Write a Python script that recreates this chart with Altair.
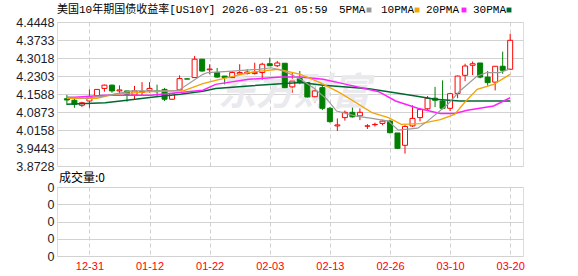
import altair as alt
import pandas as pd

# ---------------- data ----------------
idx = list(range(60))
open_ = [4.140, 4.134, 4.114, 4.131, 4.151, 4.181, 4.194, 4.171, 4.171, 4.155,
         4.165, 4.173, 4.171, 4.177, 4.138, 4.175, 4.219, 4.224, 4.297, 4.255,
         4.244, 4.230, 4.224, 4.238, 4.240, 4.240, 4.244, 4.279, 4.271, 4.281,
         4.187, 4.220, 4.204, 4.148, 4.184, 4.102, 4.032, 4.065, 4.086, 4.072,
         4.031, 4.037, 4.042, 4.051, 4.004, 3.955, 4.032, 4.065, 4.100, 4.142,
         4.131, 4.102, 4.161, 4.233, 4.273, 4.282, 4.226, 4.206, 4.269, 4.257]
close = [4.135, 4.118, 4.124, 4.148, 4.177, 4.194, 4.171, 4.175, 4.158, 4.171,
         4.169, 4.181, 4.168, 4.138, 4.160, 4.220, 4.218, 4.297, 4.250, 4.258,
         4.226, 4.224, 4.244, 4.244, 4.246, 4.245, 4.277, 4.271, 4.282, 4.184,
         4.210, 4.204, 4.147, 4.171, 4.102, 4.049, 4.036, 4.086, 4.068, 4.086,
         4.032, 4.038, 4.051, 4.005, 3.943, 4.030, 4.062, 4.097, 4.142, 4.134,
         4.102, 4.160, 4.230, 4.270, 4.279, 4.226, 4.204, 4.269, 4.253, 4.372]
high = [4.155, 4.142, 4.128, 4.177, 4.178, 4.196, 4.196, 4.193, 4.171, 4.191,
        4.206, 4.206, 4.196, 4.183, 4.162, 4.233, 4.219, 4.310, 4.298, 4.277,
        4.262, 4.230, 4.250, 4.277, 4.257, 4.283, 4.283, 4.303, 4.290, 4.281,
        4.244, 4.250, 4.204, 4.204, 4.191, 4.107, 4.062, 4.093, 4.107, 4.102,
        4.039, 4.045, 4.057, 4.057, 4.004, 4.035, 4.114, 4.099, 4.151, 4.187,
        4.213, 4.163, 4.232, 4.279, 4.288, 4.282, 4.250, 4.269, 4.327, 4.398]
low = [4.115, 4.104, 4.107, 4.104, 4.150, 4.168, 4.164, 4.160, 4.128, 4.138,
       4.155, 4.164, 4.150, 4.131, 4.136, 4.171, 4.218, 4.224, 4.248, 4.237,
       4.224, 4.197, 4.214, 4.232, 4.236, 4.236, 4.215, 4.271, 4.266, 4.181,
       4.164, 4.198, 4.144, 4.124, 4.095, 4.045, 4.012, 4.053, 4.065, 4.055,
       4.020, 4.030, 4.035, 4.002, 3.940, 3.922, 4.028, 4.050, 4.091, 4.107,
       4.098, 4.091, 4.142, 4.210, 4.234, 4.221, 4.192, 4.173, 4.239, 4.254]
volume = [0] * 60

# moving-average lines (candle index, value)
ma5_i = [0, 2.5, 5.1, 8.6, 13.8, 14.8, 18.1, 18.75, 22, 25.5, 27.2, 28.5, 29.8, 31.1,
         32.8, 34.6, 35.9, 38.5, 40.6, 42.8, 44.1, 46.7, 48, 50.7, 52.3, 54.6, 55.9, 57.6, 59]
ma5_v = [4.147, 4.142, 4.151, 4.171, 4.171, 4.172, 4.237, 4.244, 4.250, 4.257, 4.263, 4.253,
         4.237, 4.217, 4.184, 4.138, 4.091, 4.071, 4.062, 4.051, 4.015, 4.023, 4.051, 4.118,
         4.171, 4.230, 4.244, 4.244, 4.259]
ma10_i = [0, 4, 6.4, 10.7, 13.8, 15.5, 18.1, 19.8, 24.2, 28.1, 31.1, 33.7, 36.3, 38.5,
          40.6, 42.8, 44.5, 47.1, 49.7, 51.6, 52.9, 54.6, 56.8, 59]
ma10_v = [4.142, 4.142, 4.158, 4.167, 4.171, 4.171, 4.200, 4.213, 4.244, 4.257, 4.237,
          4.204, 4.164, 4.124, 4.085, 4.065, 4.038, 4.041, 4.057, 4.078, 4.124, 4.177,
          4.197, 4.237]
ma20_i = [0, 5.1, 11.2, 14.6, 18.1, 19.8, 24.2, 28.5, 31.1, 34.1, 37.2, 41.5, 43.75,
          46.7, 49.7, 51.6, 53.3, 56.8, 59]
ma20_v = [4.144, 4.154, 4.154, 4.164, 4.174, 4.197, 4.217, 4.226, 4.226, 4.217, 4.197,
          4.168, 4.131, 4.102, 4.081, 4.081, 4.094, 4.111, 4.144]
ma30_i = [0, 5.1, 7.7, 11.6, 15.1, 18.1, 19.8, 24.2, 28.5, 31.1, 34.1, 37.2, 40.2,
          42.8, 46.4, 49, 52.3, 59]
ma30_v = [4.118, 4.124, 4.133, 4.147, 4.158, 4.170, 4.181, 4.191, 4.200, 4.204, 4.194,
          4.187, 4.180, 4.168, 4.151, 4.138, 4.131, 4.131]

y_ticks = [4.4448, 4.3733, 4.3018, 4.2303, 4.1588, 4.0873, 4.0158, 3.9443, 3.8728]
vol_ticks = [0, 1, 2, 3, 4]
x_tick_idx = [3, 11, 19, 27, 35, 43, 51, 59]
x_tick_labels = ["12-31", "01-12", "01-22", "02-03", "02-13", "02-26", "03-10", "03-20"]

title_text = "美国10年期国债收益率[US10Y] 2026-03-21 05:59"
vol_title = "成交量:0"
ma_names = ["5PMA", "10PMA", "20PMA", "30PMA"]
ma_colors = ["#9b9b9b", "#f5a300", "#ff22ff", "#00692f"]
watermark = "东方财富"

# ---------------- build ----------------
W, H1, H2 = 466, 144, 69
UP, DOWN = "#ff0000", "#007f00"
MONO = "Liberation Mono, Noto Sans CJK SC"

df = pd.DataFrame({"i": idx, "open": open_, "close": close, "high": high,
                   "low": low, "vol": volume})
df["dir"] = ["up" if c >= o else "down" for o, c in zip(open_, close)]

xscale = alt.Scale(domain=[-0.65, 60.04], nice=False, zero=False)
yscale = alt.Scale(domain=[y_ticks[-1], y_ticks[0]], nice=False, zero=False)

x_axis = alt.Axis(values=x_tick_idx, labels=False, ticks=False, domain=False, grid=True,
                  gridDash=[4, 3], gridColor="#cfcfcf", gridWidth=1, title=None)

y_axis = alt.Axis(values=y_ticks, format=".4f", grid=True, gridColor="#d2d2d2",
                  gridWidth=1, domain=False, ticks=False, labelPadding=3,
                  labelOverlap=False, labelBound=False,
                  labelFont="Liberation Sans", labelFontSize=12.5,
                  labelColor="#1c1c28", title=None)

dir_scale = alt.Scale(domain=["up", "down"], range=[UP, DOWN])
fill_scale = alt.Scale(domain=["up", "down"], range=["#ffffff", DOWN])

wicks = alt.Chart(df).mark_rule(strokeWidth=1).encode(
    x=alt.X("i:Q", scale=xscale, axis=x_axis),
    y=alt.Y("low:Q", scale=yscale, axis=y_axis), y2="high:Q",
    color=alt.Color("dir:N", scale=dir_scale, legend=None))
bodies = alt.Chart(df).mark_bar(size=5, strokeWidth=1).encode(
    x=alt.X("i:Q", scale=xscale, axis=x_axis),
    y=alt.Y("open:Q", scale=yscale, axis=y_axis), y2="close:Q",
    fill=alt.Fill("dir:N", scale=fill_scale, legend=None),
    stroke=alt.Stroke("dir:N", scale=dir_scale, legend=None))

ma_layers = []
for (mi, mv), col, w in zip([(ma30_i, ma30_v), (ma20_i, ma20_v), (ma10_i, ma10_v), (ma5_i, ma5_v)],
                            [ma_colors[3], ma_colors[2], ma_colors[1], ma_colors[0]],
                            [1.5, 1.5, 1.3, 1.2]):
    mdf = pd.DataFrame({"i": mi, "low": mv})
    ma_layers.append(alt.Chart(mdf).mark_line(color=col, strokeWidth=w).encode(
        x=alt.X("i:Q", scale=xscale, axis=x_axis),
        y=alt.Y("low:Q", scale=yscale, axis=y_axis)))

wm = alt.Chart(pd.DataFrame({"t": [watermark]})).mark_text(
    font="Noto Sans CJK SC", fontSize=38, fontWeight="bold", fontStyle="italic",
    color="#e9e9ee", align="center", baseline="middle").encode(
    x=alt.value(237), y=alt.value(72), text="t:N")

ttl = alt.Chart(pd.DataFrame({"t": [title_text]})).mark_text(
    font=MONO, fontSize=11, color="#000000", align="left", baseline="middle").encode(
    x=alt.value(0), y=alt.value(-12), text="t:N")

legend_layers = []
text_x = [282, 324, 369, 416]
sq_x = [312, 360, 407, 452]
for name, col, tx, sx in zip(ma_names, ma_colors, text_x, sq_x):
    ldf = pd.DataFrame({"t": [name]})
    legend_layers.append(alt.Chart(ldf).mark_text(
        font=MONO, fontSize=11, color="#000000", align="left", baseline="middle").encode(
        x=alt.value(tx), y=alt.value(-12), text="t:N"))
    legend_layers.append(alt.Chart(ldf).mark_square(
        size=24, color=col, opacity=1, shape="M-1,-0.5L1,-0.5L1,0.5L-1,0.5Z").encode(
        x=alt.value(sx), y=alt.value(-12)))

main = alt.layer(wicks, wm, bodies, *ma_layers, ttl, *legend_layers).properties(
    width=W, height=H1)

label_expr = ""
for v, lab in zip(x_tick_idx, x_tick_labels):
    label_expr += f"datum.value == {v} ? '{lab}' : "
label_expr += "''"

x_vol = alt.X("i:Q", scale=xscale, axis=alt.Axis(
    values=x_tick_idx, labelExpr=label_expr, ticks=False, domain=False, grid=True,
    gridDash=[4, 3], gridColor="#cfcfcf", gridWidth=1, title=None,
    labelColor="#ff0000", labelFont="Liberation Sans", labelFontSize=11,
    labelOverlap=False, labelPadding=4))

vol_bars = alt.Chart(df).mark_bar(size=5, color=UP).encode(
    x=x_vol,
    y=alt.Y("vol:Q", scale=alt.Scale(domain=[0, 4], nice=False), axis=alt.Axis(
        values=vol_ticks, labelExpr="'0'", grid=True, gridColor="#d2d2d2", domain=False,
        ticks=False, labelPadding=3, labelOverlap=False, labelBound=False,
        labelFont="Liberation Sans", labelFontSize=12.5,
        labelColor="#1c1c28", title=None)))
vol_ttl = alt.Chart(pd.DataFrame({"t": [vol_title]})).mark_text(
    font="Noto Sans CJK SC", fontSize=12, color="#000000", align="left",
    baseline="middle").encode(x=alt.value(2), y=alt.value(-9), text="t:N")

vol = alt.layer(vol_bars, vol_ttl).properties(width=W, height=H2)

chart = alt.vconcat(main, vol, spacing=21, bounds="flush").properties(
    padding={"left": 15, "top": 3, "right": 50, "bottom": 5}
).configure_view(stroke="#999999", strokeWidth=1.5
).configure_axis(labelOverlap=False
).configure(background="#ffffff")

chart.save("out.html", embed_options={"renderer": "svg", "actions": False})
